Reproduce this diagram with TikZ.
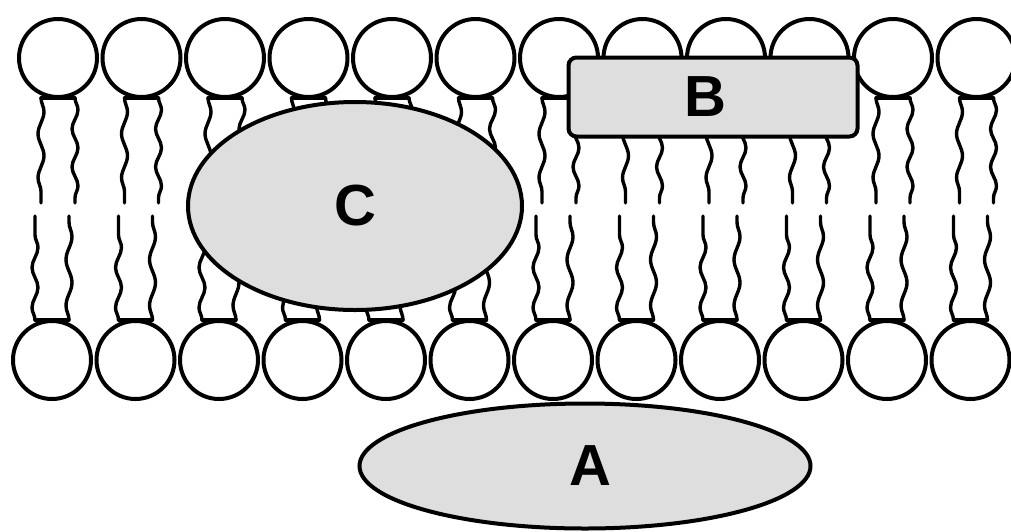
\documentclass[tikz,border=0pt]{standalone}
\usepackage{fontspec}
\setmainfont{Liberation Sans}
\usetikzlibrary{calc,shapes.geometric,decorations.pathmorphing}
\definecolor{protgray}{HTML}{DEDEDE}

\begin{document}
\begin{tikzpicture}[
    x=1pt, y=-1pt,
 head/.style = {
        draw, circle, fill=white, line width=4pt,
        minimum size=78pt, inner sep=0pt},
 tail/.style = {
        line width=3.4pt, line cap=round, line join=round},
 wavy/.style = {
        decorate, decoration={snake, segment length=#1, amplitude=3pt}},
 wavy/.default = 42pt,
 protein/.style = {
        draw, fill=protgray, line width=4pt, inner sep=0pt,
        font=\fontsize{58}{60}\selectfont\bfseries}
                    ]
\useasboundingbox (0,0) rectangle (1011,531);
\clip (0,0) rectangle (1011,531);

% the polar heads of both leaflets
\foreach \i in {1,...,12} {
    \node[head] (top\i) at ({58+83.5*(\i-1)}, 58)  {};
    \node[head] (bot\i) at ({52+83.5*(\i-1)}, 360) {};
}

% the fatty acid tails
\foreach \i in {1,...,12} {
    % upper leaflet
    \draw[tail] ($(top\i.south)+(-17,-1)$) -- ($(top\i.south)+(17,-1)$);
    \draw[tail,wavy=44pt] ($(top\i.south)+(-17,-1)$) -- ++(0,105);
    \draw[tail,wavy=38pt] ($(top\i.south)+(17,-1)$)  -- ++(0,105);
    % lower leaflet
    \draw[tail] ($(bot\i.north)+(-17,1)$) -- ($(bot\i.north)+(17,1)$);
    \draw[tail,wavy=40pt] ($(bot\i.north)+(-17,1)$) -- ++(0,-104);
    \draw[tail,wavy=46pt] ($(bot\i.north)+(17,1)$)  -- ++(0,-104);
}

% the proteins
\node[protein, ellipse, minimum width=334pt, minimum height=208pt]
        (protC) at (355,206) {C};
\node[protein, rounded corners=8pt, minimum width=289pt, minimum height=79pt]
        (protB) at (713,97)  {\hspace*{-16pt}B};
\node[protein, ellipse, minimum width=451pt, minimum height=125pt]
        (protA) at (585,466) {\hspace*{10pt}A};
\end{tikzpicture}
\end{document}
